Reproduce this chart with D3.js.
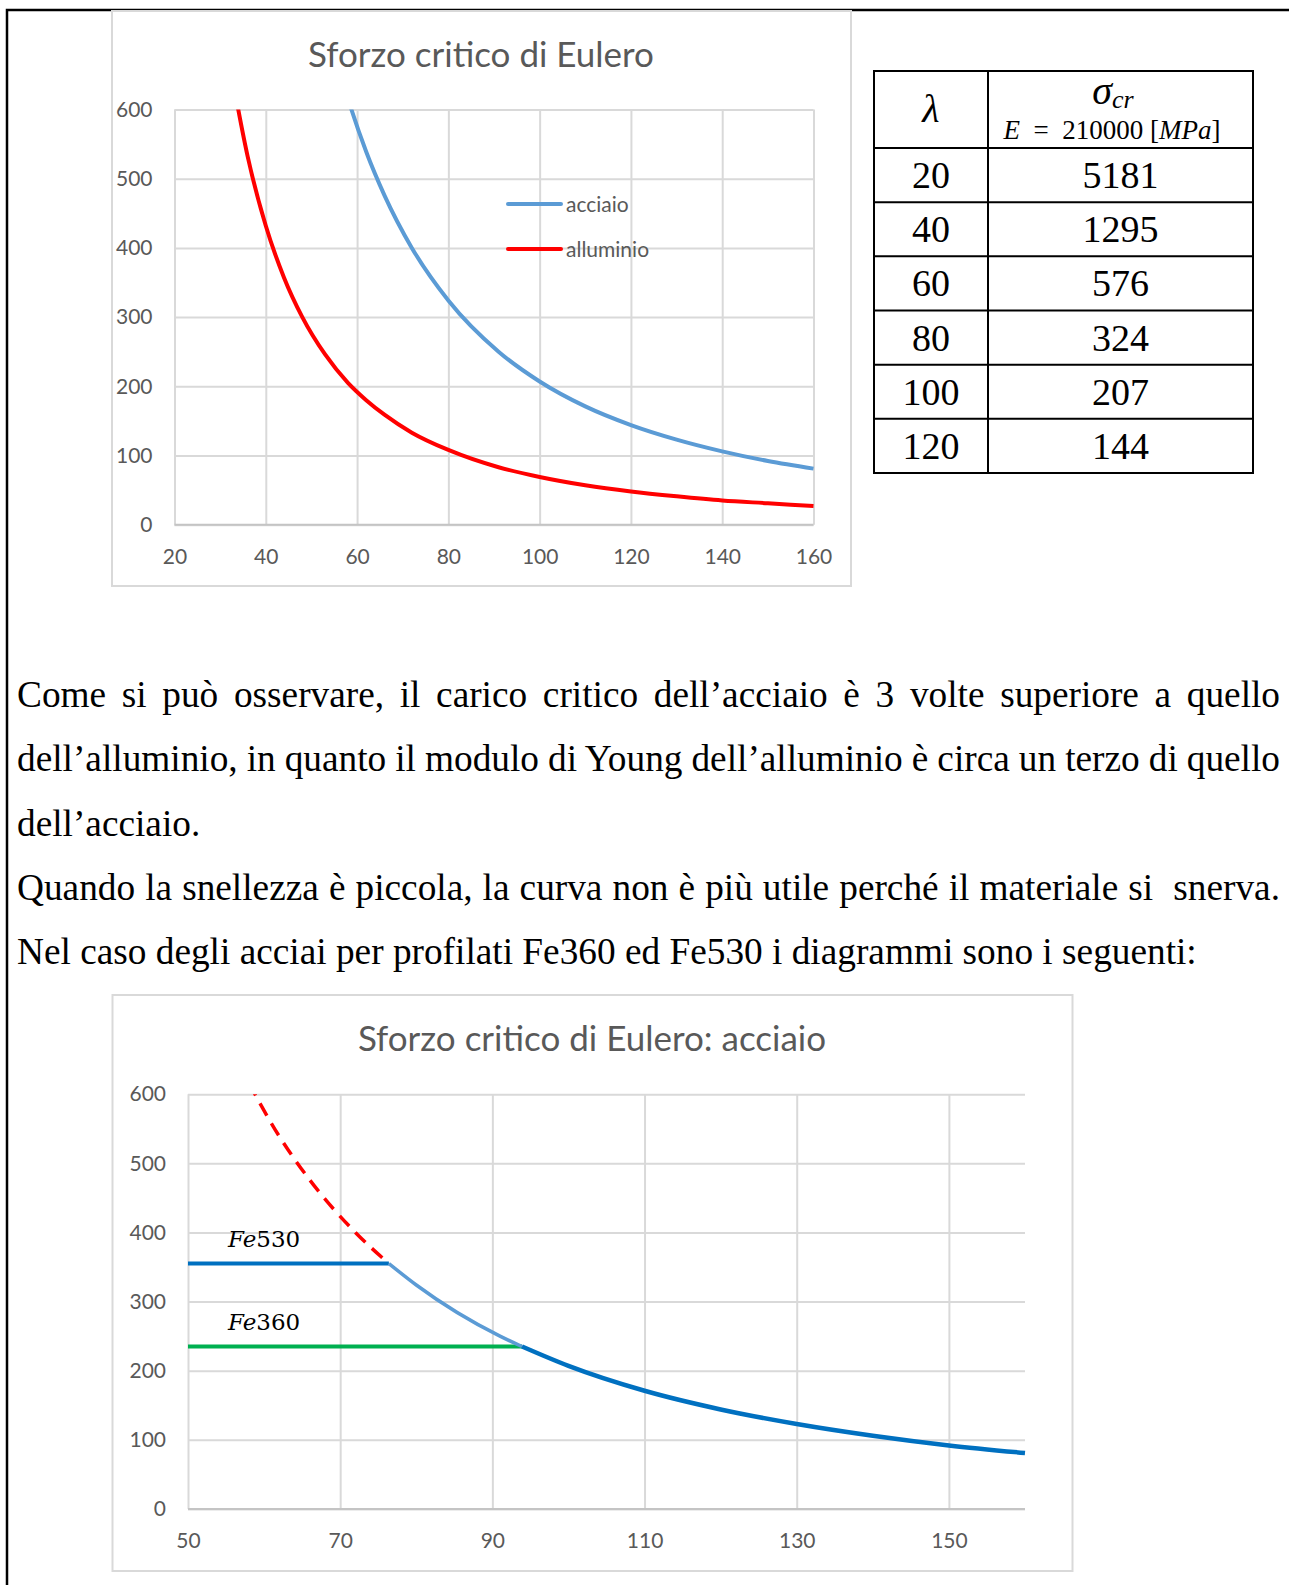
<!DOCTYPE html>
<html>
<head>
<meta charset="utf-8">
<script src="https://cdn.jsdelivr.net/npm/d3@7"></script>
<style>
  body { margin: 0; background: #fff; }
  #page { position: relative; width: 1289px; height: 1585px; overflow: hidden; }
  .axis text { font-family: Lato, 'Open Sans', sans-serif; font-size: 21px; fill: #595959; }
  .axis line { stroke: #d9d9d9; stroke-width: 2; }
  .title { font-family: Lato, 'Open Sans', sans-serif; font-size: 35px; fill: #595959; }
  .legend text { font-family: Lato, 'Open Sans', sans-serif; font-size: 21px; fill: #595959; }
  .para { font-family: 'Liberation Serif', 'Times New Roman', serif; font-size: 37.3px; fill: #000; white-space: pre; }
  .cell { font-family: 'Liberation Serif', 'Times New Roman', serif; fill: #000; }
</style>
</head>
<body>
<div id="page"></div>
<script>
// top chart: sigma critico vs snellezza
const lambdaTop = [33, 36, 40, 44, 48, 53, 58, 62, 66, 72, 80, 91, 100, 110, 120, 130, 140, 150, 160]
const acciaio = [1903, 1599, 1295, 1071, 900, 738, 616, 539, 476, 400, 324, 250, 207, 171, 144, 123, 106, 92, 81]
const alluminio = [634, 533, 432, 357, 300, 246, 205, 180, 159, 133, 108, 83, 69, 57, 48, 41, 35, 31, 27]
const topXTicks = [20, 40, 60, 80, 100, 120, 140, 160]
const yTicks = [0, 100, 200, 300, 400, 500, 600]
const seriesNames = ['acciaio', 'alluminio']

// bottom chart: acciaio con limiti di snervamento
const lambdaDashed = [58, 62, 66, 72, 76.4]
const sigmaDashed = [616, 539, 476, 400, 355]
const lambdaMid = [76.4, 80, 91, 93.9]
const sigmaMid = [355, 324, 250, 235]
const lambdaTail = [93.9, 100, 110, 120, 130, 140, 150, 160]
const sigmaTail = [235, 207, 171, 144, 123, 106, 92, 81]
const fe530 = [[50, 355], [76.4, 355]]
const fe360 = [[50, 235], [93.9, 235]]
const botXTicks = [50, 70, 90, 110, 130, 150]

// table
const tableLambda = [20, 40, 60, 80, 100, 120]
const tableSigma = [5181, 1295, 576, 324, 207, 144]

const textLines = [
  'Come si può osservare, il carico critico dell’acciaio è 3 volte superiore a quello',
  'dell’alluminio, in quanto il modulo di Young dell’alluminio è circa un terzo di quello',
  'dell’acciaio.',
  'Quando la snellezza è piccola, la curva non è più utile perché il materiale si  snerva.',
  'Nel caso degli acciai per profilati Fe360 ed Fe530 i diagrammi sono i seguenti:'
]
const justified = [true, true, false, true, false]

const W = 1289
const H = 1585
const svg = d3.select('#page').append('svg').attr('width', W).attr('height', H)

// page border (top and left)
svg.append('path')
  .attr('d', `M7,${H}V10H${W}`)
  .attr('fill', 'none')
  .attr('stroke', '#000')
  .attr('stroke-width', 2.5)

const zip = (xs, ys) => xs.map((v, i) => [v, ys[i]])

let clipId = 0
function drawChart (o) {
  const g = svg.append('g')
  g.append('rect')
    .attr('x', o.frame[0]).attr('y', o.frame[1])
    .attr('width', o.frame[2]).attr('height', o.frame[3])
    .attr('fill', '#fff')
    .attr('stroke', '#d9d9d9')
    .attr('stroke-width', 2)

  const x = d3.scaleLinear().domain(o.xDomain).range([o.left, o.right])
  const y = d3.scaleLinear().domain([0, 600]).range([o.bottom, o.top])

  g.append('g')
    .attr('class', 'axis')
    .attr('transform', `translate(${o.left},0)`)
    .call(d3.axisLeft(y).tickValues(yTicks).tickSizeInner(-(o.right - o.left)).tickSizeOuter(0).tickPadding(22))
    .call(s => s.select('.domain').remove())

  g.append('g')
    .attr('class', 'axis')
    .attr('transform', `translate(0,${o.bottom})`)
    .call(d3.axisBottom(x).tickValues(o.xTicks).tickSizeInner(-(o.bottom - o.top)).tickSizeOuter(0).tickPadding(24).tickFormat(d3.format('d')))
    .call(s => s.select('.domain').remove())

  // horizontal axis line
  g.append('line')
    .attr('x1', o.left).attr('x2', o.right)
    .attr('y1', y(0)).attr('y2', y(0))
    .attr('stroke', '#c4c4c4').attr('stroke-width', 2)

  g.append('text')
    .attr('class', 'title')
    .attr('x', o.titleX).attr('y', o.titleY)
    .attr('text-anchor', 'middle')
    .text(o.title)

  const id = 'clip' + (clipId++)
  g.append('clipPath').attr('id', id)
    .append('rect')
    .attr('x', o.left).attr('y', o.top)
    .attr('width', o.right - o.left + 4).attr('height', o.bottom - o.top)

  const line = d3.line().curve(d3.curveMonotoneX).x(d => x(d[0])).y(d => y(d[1]))
  const plot = g.append('g').attr('clip-path', `url(#${id})`)
  return { g, x, y, line, plot }
}

// ---- top chart
const topChart = drawChart({
  frame: [112, 11, 739, 575],
  left: 174.5, right: 813.5, top: 109.5, bottom: 524.7,
  xDomain: [20, 160], xTicks: topXTicks,
  title: 'Sforzo critico di Eulero', titleX: 481, titleY: 67
})
const topColors = ['#5b9bd5', '#ff0000']
;[acciaio, alluminio].forEach((vals, i) => {
  topChart.plot.append('path')
    .attr('d', topChart.line(zip(lambdaTop, vals)))
    .attr('fill', 'none')
    .attr('stroke', topColors[i])
    .attr('stroke-width', 4)
    .attr('stroke-linejoin', 'round')
})
const legend = topChart.g.append('g').attr('class', 'legend')
seriesNames.forEach((name, i) => {
  const ly = 204 + i * 45
  legend.append('line')
    .attr('x1', 508).attr('x2', 561).attr('y1', ly).attr('y2', ly)
    .attr('stroke', topColors[i]).attr('stroke-width', 4).attr('stroke-linecap', 'round')
  legend.append('text').attr('x', 566).attr('y', ly + 7.5).text(name)
})

// ---- table
const tbl = svg.append('g')
const colX = [874, 988, 1253]
const headerTop = 71
const headerBottom = 148
const rowH = (473 - headerBottom) / tableLambda.length
const tblBottom = headerBottom + rowH * tableLambda.length
tbl.append('rect')
  .attr('x', colX[0]).attr('y', headerTop)
  .attr('width', colX[2] - colX[0]).attr('height', tblBottom - headerTop)
  .attr('fill', 'none').attr('stroke', '#000').attr('stroke-width', 2)
tbl.append('line')
  .attr('x1', colX[1]).attr('x2', colX[1]).attr('y1', headerTop).attr('y2', tblBottom)
  .attr('stroke', '#000').attr('stroke-width', 2)
tableLambda.forEach((l, i) => {
  const y0 = headerBottom + i * rowH
  tbl.append('line')
    .attr('x1', colX[0]).attr('x2', colX[2]).attr('y1', y0).attr('y2', y0)
    .attr('stroke', '#000').attr('stroke-width', 2)
  tbl.append('text').attr('class', 'cell')
    .attr('x', (colX[0] + colX[1]) / 2).attr('y', y0 + rowH / 2 + 13)
    .attr('text-anchor', 'middle').attr('font-size', 38)
    .text(l)
  tbl.append('text').attr('class', 'cell')
    .attr('x', (colX[1] + colX[2]) / 2).attr('y', y0 + rowH / 2 + 13)
    .attr('text-anchor', 'middle').attr('font-size', 38)
    .text(tableSigma[i])
})
tbl.append('text').attr('class', 'cell')
  .attr('x', (colX[0] + colX[1]) / 2).attr('y', 122)
  .attr('text-anchor', 'middle').attr('font-size', 40).attr('font-style', 'italic')
  .text('λ')
const sig = tbl.append('text').attr('class', 'cell')
  .attr('x', 1113).attr('y', 104)
  .attr('text-anchor', 'middle').attr('font-style', 'italic')
sig.append('tspan').attr('font-size', 40).text('σ')
sig.append('tspan').attr('font-size', 26).attr('dy', 4).text('cr')
const eq = tbl.append('text').attr('class', 'cell')
  .attr('x', 1112).attr('y', 139)
  .attr('text-anchor', 'middle').attr('font-size', 27)
  .style('white-space', 'pre')
eq.append('tspan').attr('font-style', 'italic').text('E')
eq.append('tspan').text('  =  210000 [')
eq.append('tspan').attr('font-style', 'italic').text('MPa')
eq.append('tspan').text(']')

// ---- paragraph
const paraLeft = 17
const paraRight = 1280
textLines.forEach((t, i) => {
  const el = svg.append('text')
    .attr('class', 'para')
    .attr('x', paraLeft)
    .attr('y', 707 + i * 64.3)
    .text(t)
  if (justified[i]) {
    const len = el.node().getComputedTextLength()
    const spaces = (t.match(/ /g) || []).length
    el.attr('word-spacing', (paraRight - paraLeft - len) / spaces)
  }
})

// ---- bottom chart
const botChart = drawChart({
  frame: [112.5, 995, 960, 576],
  left: 188, right: 1025, top: 1094.2, bottom: 1509,
  xDomain: [50, 160], xTicks: botXTicks,
  title: 'Sforzo critico di Eulero: acciaio', titleX: 592, titleY: 1051
})
botChart.plot.append('path')
  .attr('d', botChart.line(zip(lambdaDashed, sigmaDashed)))
  .attr('fill', 'none').attr('stroke', '#ff0000').attr('stroke-width', 3.5)
  .attr('stroke-dasharray', '14,9')
botChart.plot.append('path')
  .attr('d', botChart.line(fe530))
  .attr('fill', 'none').attr('stroke', '#0070c0').attr('stroke-width', 4)
botChart.plot.append('path')
  .attr('d', botChart.line(fe360))
  .attr('fill', 'none').attr('stroke', '#00b050').attr('stroke-width', 4)
botChart.plot.append('path')
  .attr('d', botChart.line(zip(lambdaMid, sigmaMid)))
  .attr('fill', 'none').attr('stroke', '#5b9bd5').attr('stroke-width', 3.5).attr('stroke-linejoin', 'round')
botChart.plot.append('path')
  .attr('d', botChart.line(zip(lambdaTail, sigmaTail)))
  .attr('fill', 'none').attr('stroke', '#0070c0').attr('stroke-width', 4.5).attr('stroke-linejoin', 'round')

const labels = [['Fe', '530', 355], ['Fe', '360', 235]]
labels.forEach(([a, b, v]) => {
  const t = botChart.g.append('text')
    .attr('x', 228).attr('y', botChart.y(v) - 17)
    .attr('font-family', "'DejaVu Serif', serif").attr('font-size', 23).attr('fill', '#000')
  t.append('tspan').attr('font-style', 'italic').text(a)
  t.append('tspan').text(b)
})
</script>
</body>
</html>
